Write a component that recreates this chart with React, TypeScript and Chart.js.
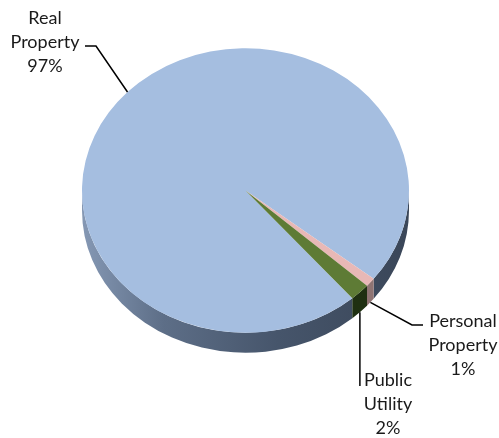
import React, { useEffect, useRef } from "react";
import { Chart, registerables } from "chart.js";

Chart.register(...registerables);

const categories = ["Real Property", "Personal Property", "Public Utility"];
const values = [97, 1, 2];
const percentLabels = ["97%", "1%", "2%"];
const topColors = ["#a5bee0", "#e8b8b6", "#5e7b35"];
const sideColors = ["#4d5d75", "#8f7473", "#1f3011"];

const TILT = 0.87;
const DEPTH = 20;

const labelLayout = [
  { lines: ["Real", "Property", "97%"], x: 45, y: 18, side: false, path: [[96, 46], [85, 46]] },
  { lines: ["Personal", "Property", "1%"], x: 463, y: 321, side: true, path: [[412, 325], [423, 325]] },
  { lines: ["Public", "Utility", "2%"], x: 388, y: 380, side: true, path: [[null, 386]] },
];

const pie3d = {
  id: "pie3d",
  beforeDatasetsDraw(chart: any) {
    const ctx = chart.ctx;
    const meta = chart.getDatasetMeta(0);
    const first = meta.data[0];
    if (!first) return;
    const cx = first.x;
    const cy = first.y;
    ctx.save();
    ctx.translate(cx, cy);
    ctx.scale(1, TILT);
    ctx.translate(-cx, -cy);
    const d = DEPTH / TILT;
    meta.data.forEach((el: any, i: number) => {
      const p = el.getProps(["x", "y", "startAngle", "endAngle", "outerRadius"], true);
      const r = p.outerRadius;
      for (let n = -2; n <= 2; n++) {
        const lo = Math.max(p.startAngle, 2 * Math.PI * n);
        const hi = Math.min(p.endAngle, 2 * Math.PI * n + Math.PI);
        if (hi <= lo) continue;
        let fill: any = sideColors[i];
        if (i === 0) {
          const g = ctx.createLinearGradient(p.x - r, 0, p.x + r, 0);
          g.addColorStop(0, "#8598b4");
          g.addColorStop(0.25, "#5d6e87");
          g.addColorStop(0.6, "#46556b");
          g.addColorStop(1, "#3a4658");
          fill = g;
        }
        ctx.beginPath();
        ctx.arc(p.x, p.y + d, r, lo, hi);
        ctx.arc(p.x, p.y, r, hi, lo, true);
        ctx.closePath();
        ctx.fillStyle = fill;
        ctx.fill();
      }
    });
  },
  afterDatasetsDraw(chart: any) {
    chart.ctx.restore();
  },
  afterDraw(chart: any) {
    const ctx = chart.ctx;
    const meta = chart.getDatasetMeta(0);
    ctx.save();
    ctx.strokeStyle = "#000";
    ctx.lineWidth = 1.5;
    ctx.fillStyle = "#1a1a1a";
    ctx.font = "18px Lato, 'Open Sans', sans-serif";
    ctx.textAlign = "center";
    ctx.textBaseline = "middle";
    meta.data.forEach((el: any, i: number) => {
      const p = el.getProps(["x", "y", "startAngle", "endAngle", "outerRadius"], true);
      const mid = (p.startAngle + p.endAngle) / 2;
      const L = labelLayout[i];
      const sx = p.x + p.outerRadius * Math.cos(mid);
      const sy = p.y + p.outerRadius * Math.sin(mid) * TILT + (L.side ? DEPTH : 0);
      ctx.beginPath();
      ctx.moveTo(sx, sy);
      L.path.forEach((pt: any) => ctx.lineTo(pt[0] === null ? sx : pt[0], pt[1]));
      ctx.stroke();
      L.lines.forEach((t, k) => ctx.fillText(t, L.x, L.y + k * 24));
    });
    ctx.restore();
  },
};

export default function App() {
  const ref = useRef<HTMLCanvasElement>(null);
  useEffect(() => {
    if (!ref.current) return;
    const chart = new Chart(ref.current, {
      type: "pie",
      data: {
        labels: categories.map((c, i) => `${c} ${percentLabels[i]}`),
        datasets: [
          {
            data: values,
            backgroundColor: topColors,
            borderWidth: 0,
            hoverOffset: 0,
          },
        ],
      },
      options: {
        animation: false,
        responsive: false,
        rotation: 139.2,
        layout: { padding: { left: 82, top: 27, right: 90, bottom: 84 } },
        plugins: { legend: { display: false }, tooltip: { enabled: false } },
      },
      plugins: [pie3d],
    } as any);
    return () => chart.destroy();
  }, []);
  return (
    <div style={{ position: "fixed", left: 0, top: 0, width: 499, height: 438, background: "#fff" }}>
      <canvas ref={ref} width={499} height={438} />
    </div>
  );
}
